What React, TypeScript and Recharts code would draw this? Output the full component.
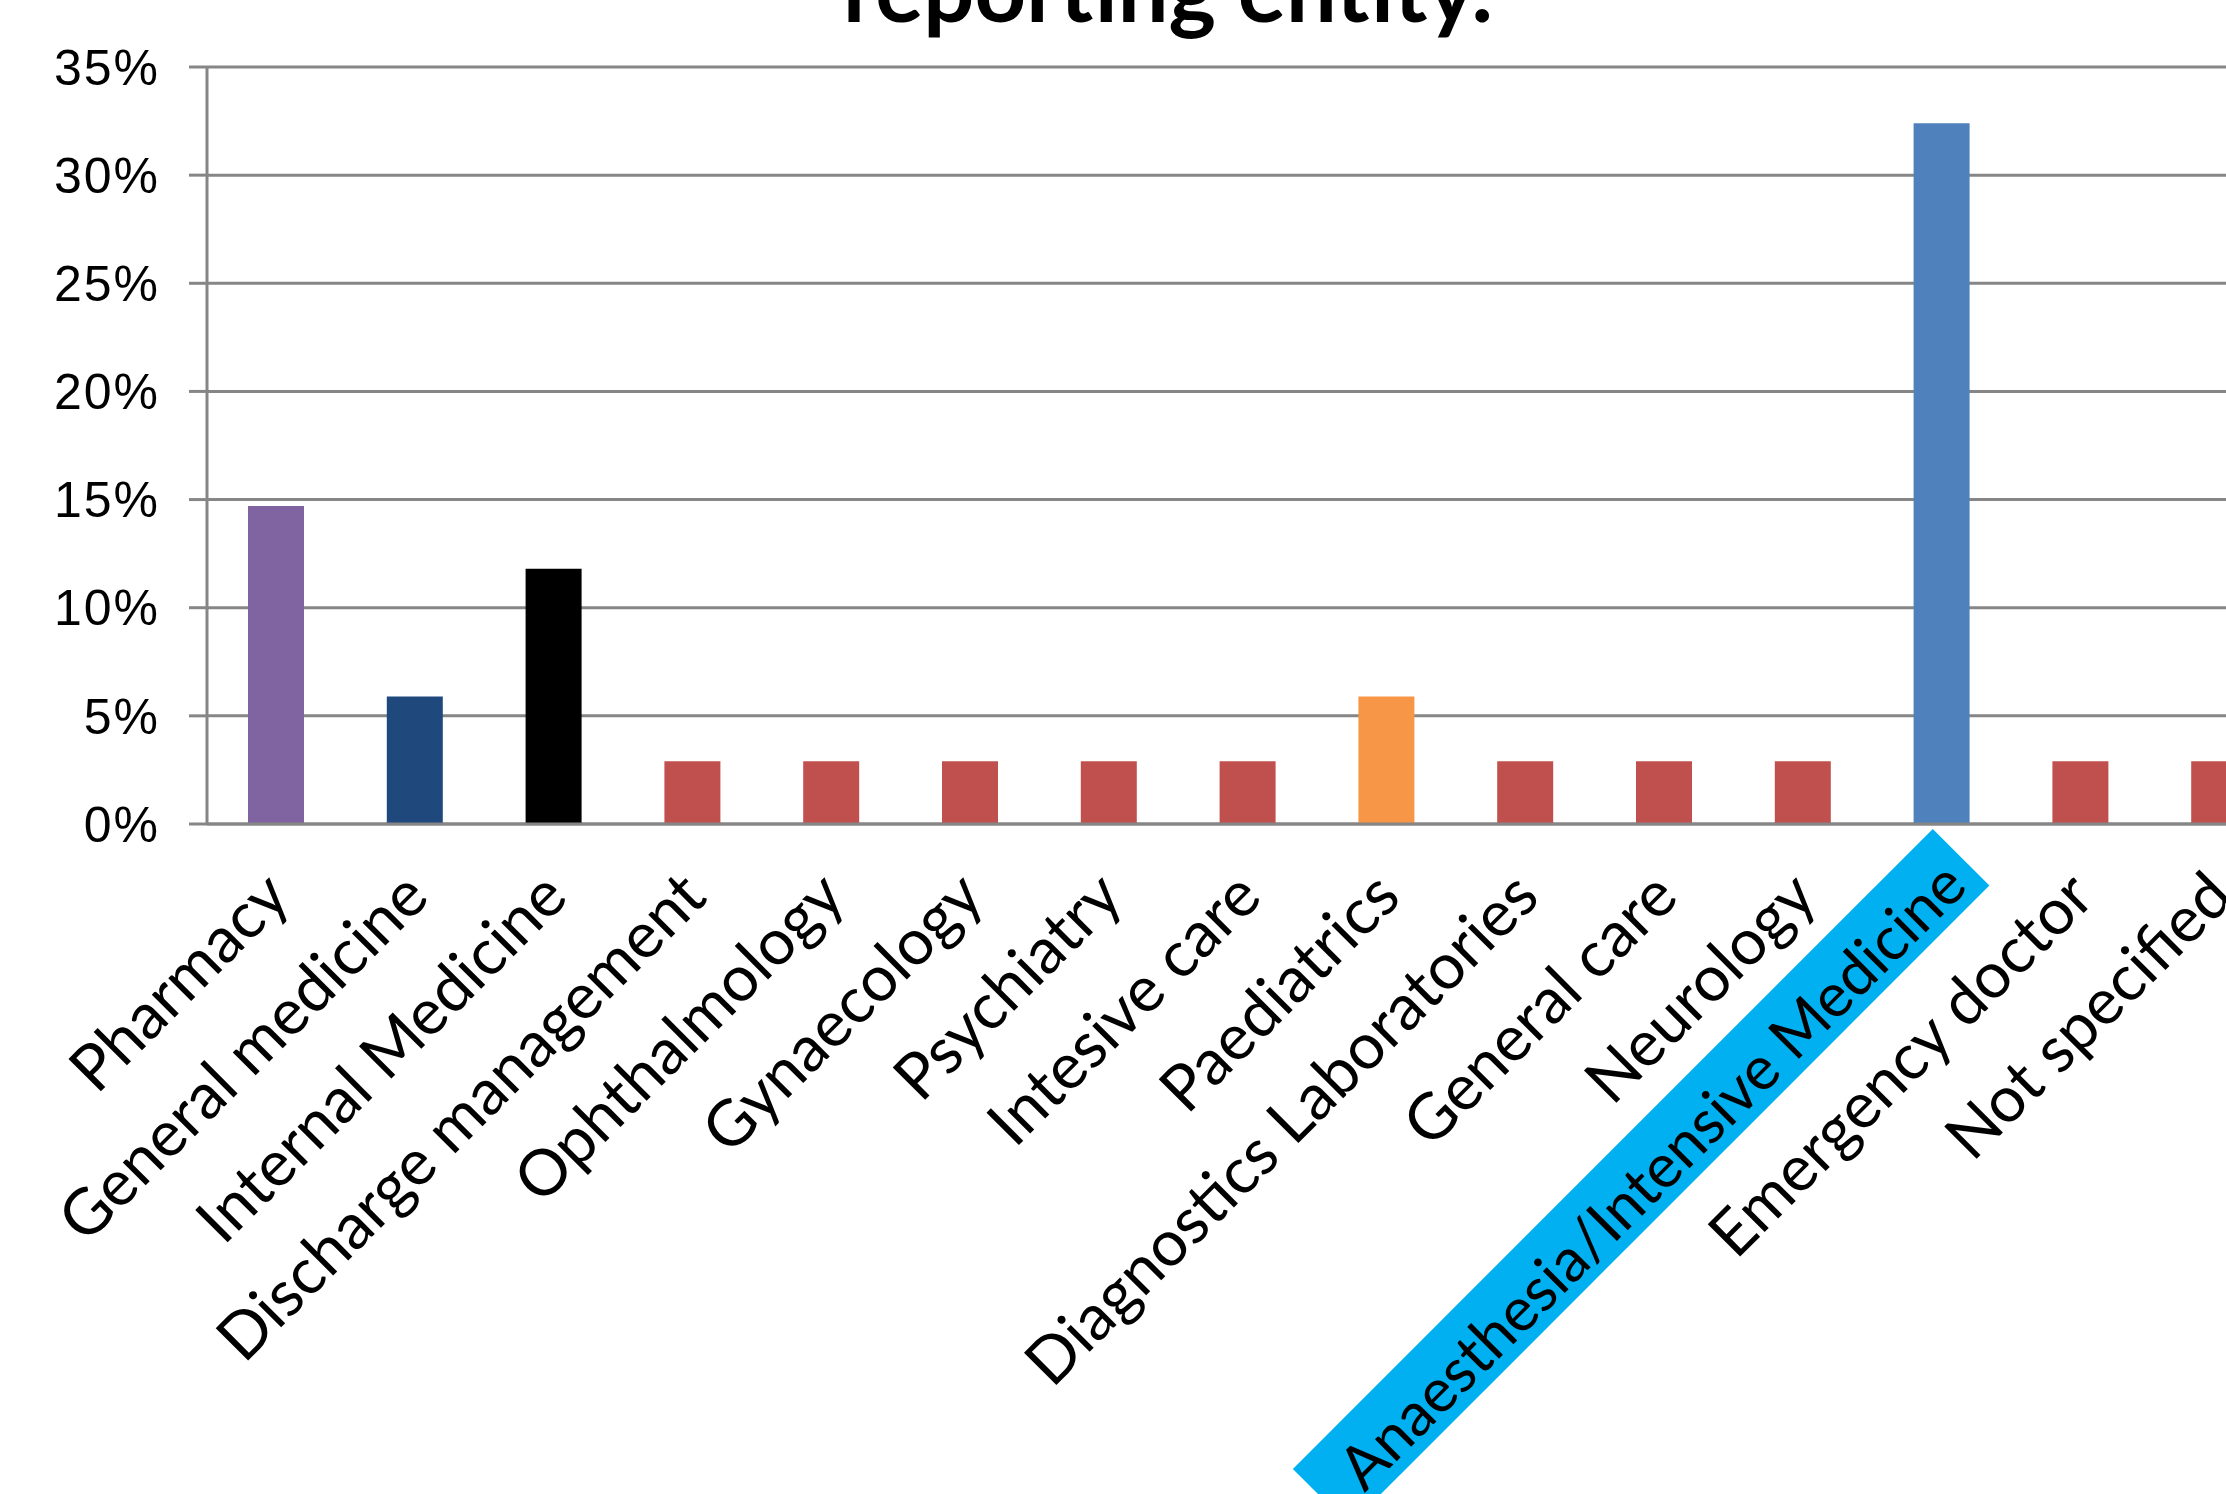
import React from 'react';
import { BarChart, Bar, XAxis, YAxis, CartesianGrid, Cell } from 'recharts';

const categories = [
  'Pharmacy',
  'General medicine',
  'Internal Medicine',
  'Discharge management',
  'Ophthalmology',
  'Gynaecology',
  'Psychiatry',
  'Intesive care',
  'Paediatrics',
  'Diagnostics Laboratories',
  'General care',
  'Neurology',
  'Anaesthesia/Intensive Medicine',
  'Emergency doctor',
  'Not specified'
];

// share of reports per reporting entity, in %
const shares = [14.7, 5.9, 11.8, 2.9, 2.9, 2.9, 2.9, 2.9, 5.9, 2.9, 2.9, 2.9, 32.4, 2.9, 2.9];

const barColors = [
  '#8064A2', '#1F497D', '#000000', '#C0504D', '#C0504D',
  '#C0504D', '#C0504D', '#C0504D', '#F79646', '#C0504D',
  '#C0504D', '#C0504D', '#4F81BD', '#C0504D', '#C0504D'
];

const yTicks = [0, 5, 10, 15, 20, 25, 30, 35];

const highlighted = 'Anaesthesia/Intensive Medicine';

const data = categories.map((name, i) => ({ name, share: shares[i] }));

const GRID = '#868686';

// Rotated category label, Excel style
const XTick = ({ x, y, payload }: any) => {
  const hl = payload.value === highlighted;
  return (
    <g transform={`translate(${x},${y}) rotate(-45)`}>
      {hl && <rect x={-915} y={-3} width={905} height={80} fill="#00B0F0" />}
      <text
        x={hl ? -26 : -42}
        y={65}
        textAnchor="end"
        fontFamily="Lato, 'Open Sans', sans-serif"
        fontSize={hl ? 61 : 64}
        fill="#000"
      >
        {payload.value}
      </text>
    </g>
  );
};

export default function App() {
  return (
    <div
      style={{
        position: 'fixed',
        left: 0,
        top: 0,
        width: 2226,
        height: 1494,
        overflow: 'hidden',
        background: '#fff'
      }}
    >
      <svg style={{ position: 'absolute', left: 0, top: 0 }} width={2226} height={60}>
        <text
          x={1168}
          y={22}
          textAnchor="middle"
          fontFamily="Lato, sans-serif"
          fontWeight="bold"
          fontSize={90}
          fill="#000"
        >
          reporting entity.
        </text>
      </svg>
      <BarChart
        width={2289}
        height={1494}
        data={data}
        margin={{ top: 67, right: 0, left: 0, bottom: 0 }}
        barCategoryGap={0}
      >
        <CartesianGrid vertical={false} stroke={GRID} strokeWidth={3} />
        <XAxis
          dataKey="name"
          interval={0}
          height={670}
          tickLine={false}
          tickSize={0}
          tickMargin={0}
          axisLine={{ stroke: GRID, strokeWidth: 3 }}
          tick={<XTick />}
        />
        <YAxis
          width={207}
          domain={[0, 35]}
          ticks={yTicks}
          interval={0}
          tickFormatter={(v: number) => `${v}%`}
          tickSize={18}
          tickMargin={29}
          tickLine={{ stroke: GRID, strokeWidth: 3 }}
          axisLine={{ stroke: GRID, strokeWidth: 3 }}
          tick={{ fontFamily: "'Liberation Sans', Arial, sans-serif", fontSize: 50, fill: '#000', letterSpacing: 2 }}
        />
        <Bar dataKey="share" barSize={56} isAnimationActive={false}>
          {data.map((d, i) => (
            <Cell key={d.name} fill={barColors[i]} />
          ))}
        </Bar>
      </BarChart>
    </div>
  );
}
